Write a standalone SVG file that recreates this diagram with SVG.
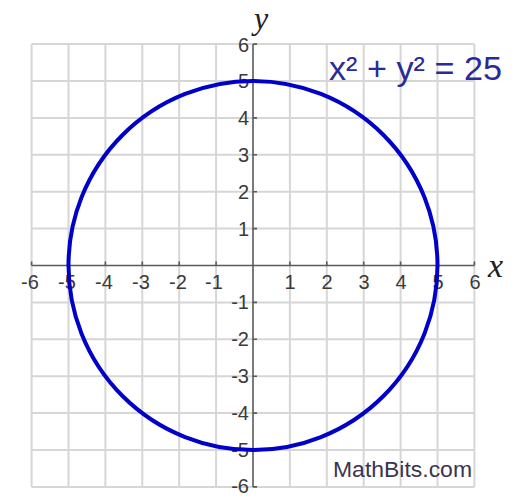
<svg xmlns="http://www.w3.org/2000/svg" width="520" height="496" viewBox="0 0 520 496">
<style>
.grid{stroke:#d6d6d6;stroke-width:2;fill:none}
.axis{stroke:#5a5a5a;stroke-width:1.6;fill:none}
.tl{font-family:"Liberation Sans",Arial,sans-serif;font-size:20px;fill:#3a3a3a}
.xl{text-anchor:middle}
.yl{text-anchor:end}
.var{font-family:"Liberation Serif","Times New Roman",serif;font-style:italic;fill:#222}
</style>
<rect width="520" height="496" fill="#fff"/>
<g id="grid">
<path class="grid" d="M31.6 44.1V486.9M68.5 44.1V486.9M105.4 44.1V486.9M142.3 44.1V486.9M179.2 44.1V486.9M216.1 44.1V486.9M289.9 44.1V486.9M326.8 44.1V486.9M363.7 44.1V486.9M400.6 44.1V486.9M437.5 44.1V486.9M474.4 44.1V486.9M31.6 44.1H474.4M31.6 81H474.4M31.6 117.9H474.4M31.6 154.8H474.4M31.6 191.7H474.4M31.6 228.6H474.4M31.6 302.4H474.4M31.6 339.3H474.4M31.6 376.2H474.4M31.6 413.1H474.4M31.6 450H474.4M31.6 486.9H474.4"/>
</g>
<g id="axes">
<path class="axis" d="M31.6 265.5H474.4M253 44.1V486.9"/>
<path class="axis" d="M31.6 265.5v-4M68.5 265.5v-4M105.4 265.5v-4M142.3 265.5v-4M179.2 265.5v-4M216.1 265.5v-4M289.9 265.5v-4M326.8 265.5v-4M363.7 265.5v-4M400.6 265.5v-4M437.5 265.5v-4M474.4 265.5v-4M253 44.1h4M253 81h4M253 117.9h4M253 154.8h4M253 191.7h4M253 228.6h4M253 302.4h4M253 339.3h4M253 376.2h4M253 413.1h4M253 450h4M253 486.9h4"/>
</g>
<g id="xlabels" class="tl xl">
<text x="30" y="289">-6</text>
<text x="67" y="289">-5</text>
<text x="104" y="289">-4</text>
<text x="141" y="289">-3</text>
<text x="178" y="289">-2</text>
<text x="214" y="289">-1</text>
<text x="290" y="289">1</text>
<text x="327" y="289">2</text>
<text x="364" y="289">3</text>
<text x="401" y="289">4</text>
<text x="438" y="289">5</text>
<text x="475" y="289">6</text>
</g>
<g id="ylabels" class="tl yl">
<text x="249" y="52">6</text>
<text x="249" y="88">5</text>
<text x="249" y="125">4</text>
<text x="249" y="162">3</text>
<text x="249" y="199">2</text>
<text x="249" y="236">1</text>
<text x="249" y="309">-1</text>
<text x="249" y="346">-2</text>
<text x="249" y="383">-3</text>
<text x="249" y="420">-4</text>
<text x="249" y="457">-5</text>
<text x="249" y="493">-6</text>
</g>
<g id="axis-names">
<text class="var" x="254" y="29" font-size="32">y</text>
<text class="var" x="488" y="277" font-size="34">x</text>
</g>
<g id="circle">
<circle cx="253" cy="265.5" r="184.5" fill="none" stroke="#0000c8" stroke-width="4"/>
</g>
<g id="equation">
<text x="329" y="80" font-family="'Liberation Sans',Arial,sans-serif" font-size="34" fill="#2a2a9a" textLength="173" lengthAdjust="spacingAndGlyphs">x² + y² = 25</text>
</g>
<g id="credit">
<text x="333" y="477" font-family="'Liberation Sans',Arial,sans-serif" font-size="22" fill="#3a3450" textLength="139" lengthAdjust="spacingAndGlyphs">MathBits.com</text>
</g>
</svg>
